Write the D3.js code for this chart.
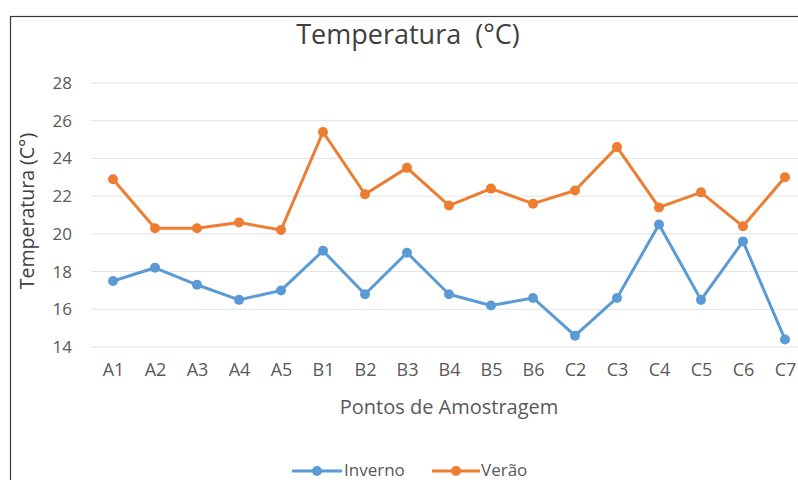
<!DOCTYPE html>
<html>
<head>
<meta charset="utf-8">
<script src="https://cdn.jsdelivr.net/npm/d3@7/dist/d3.min.js"></script>
<style>
  html, body { margin: 0; padding: 0; background: #fff; }
  svg { display: block; font-family: "Open Sans", sans-serif; }
</style>
</head>
<body>
<svg id="chart" width="798" height="480"></svg>
<script>
// Sampling points along the x axis
const categories = ["A1","A2","A3","A4","A5","B1","B2","B3","B4","B5","B6","C2","C3","C4","C5","C6","C7"];
// Winter temperatures (°C)
const inverno = [17.5,18.2,17.3,16.5,17.0,19.1,16.8,19.0,16.8,16.2,16.6,14.6,16.6,20.5,16.5,19.6,14.4];
// Summer temperatures (°C)
const verao = [22.9,20.3,20.3,20.6,20.2,25.4,22.1,23.5,21.5,22.4,21.6,22.3,24.6,21.4,22.2,20.4,23.0];
const yTicks = [14,16,18,20,22,24,26,28];

const colors = { inverno: "#5b9bd5", verao: "#ed7d31" };
const font = "'Open Sans', sans-serif";

const svg = d3.select("#chart");

// Outer chart frame (extends past the right and bottom edges)
svg.append("rect")
  .attr("x", 10.5).attr("y", 16.5)
  .attr("width", 820).attr("height", 500)
  .attr("fill", "#fff").attr("stroke", "#3a3a3a").attr("stroke-width", 1.2);

const x = d3.scalePoint().domain(categories).range([113, 785]);
const y = d3.scaleLinear().domain([14, 28]).range([347, 83]);

// Horizontal gridlines
svg.append("g")
  .selectAll("line").data(yTicks).join("line")
  .attr("x1", 91).attr("x2", 806)
  .attr("y1", d => y(d)).attr("y2", d => y(d))
  .attr("stroke", "#e3e3e3").attr("stroke-width", 1);

// Y axis tick labels
const yAxis = d3.axisLeft(y).tickValues(yTicks).tickSize(0).tickPadding(0);
const gy = svg.append("g").attr("transform", "translate(72,0)").call(yAxis);
gy.select(".domain").remove();
gy.selectAll("text").attr("fill", "#595959").attr("font-size", 17)
  .attr("font-family", font);

// X axis tick labels
const xAxis = d3.axisBottom(x).tickSize(0).tickPadding(0);
const gx = svg.append("g").attr("transform", "translate(0,363)").call(xAxis);
gx.select(".domain").remove();
gx.selectAll("text").attr("fill", "#595959").attr("font-size", 18)
  .attr("font-family", font);

// Title
svg.append("text")
  .attr("x", 408).attr("y", 44).attr("text-anchor", "middle")
  .attr("font-size", 27).attr("fill", "#404040")
  .text("Temperatura\u00a0 (°C)");

// Axis titles
svg.append("text")
  .attr("transform", "translate(34,211) rotate(-90)")
  .attr("text-anchor", "middle").attr("font-size", 19.5).attr("fill", "#404040")
  .text("Temperatura (C°)");

svg.append("text")
  .attr("x", 449).attr("y", 414).attr("text-anchor", "middle")
  .attr("font-size", 20).attr("fill", "#595959")
  .text("Pontos de Amostragem");

// Series lines and markers
const line = d3.line().x((d, i) => x(categories[i])).y(d => y(d));
const series = [
  { key: "inverno", name: "Inverno", values: inverno },
  { key: "verao", name: "Verão", values: verao }
];

series.forEach(s => {
  const g = svg.append("g");
  g.append("path").datum(s.values)
    .attr("d", line).attr("fill", "none")
    .attr("stroke", colors[s.key]).attr("stroke-width", 3)
    .attr("stroke-linejoin", "round");
  g.selectAll("circle").data(s.values).join("circle")
    .attr("cx", (d, i) => x(categories[i])).attr("cy", d => y(d))
    .attr("r", 5).attr("fill", colors[s.key]);
});

// Legend
const legendItems = [
  { key: "inverno", name: "Inverno", x0: 292, x1: 342, tx: 344 },
  { key: "verao", name: "Verão", x0: 432, x1: 480, tx: 481 }
];
const lg = svg.append("g");
legendItems.forEach(it => {
  lg.append("line").attr("x1", it.x0).attr("x2", it.x1)
    .attr("y1", 471).attr("y2", 471)
    .attr("stroke", colors[it.key]).attr("stroke-width", 3);
  lg.append("circle").attr("cx", (it.x0 + it.x1) / 2).attr("cy", 471)
    .attr("r", 5).attr("fill", colors[it.key]);
  lg.append("text").attr("x", it.tx).attr("y", 476)
    .attr("font-size", 17).attr("fill", "#595959").text(it.name);
});
</script>
</body>
</html>
